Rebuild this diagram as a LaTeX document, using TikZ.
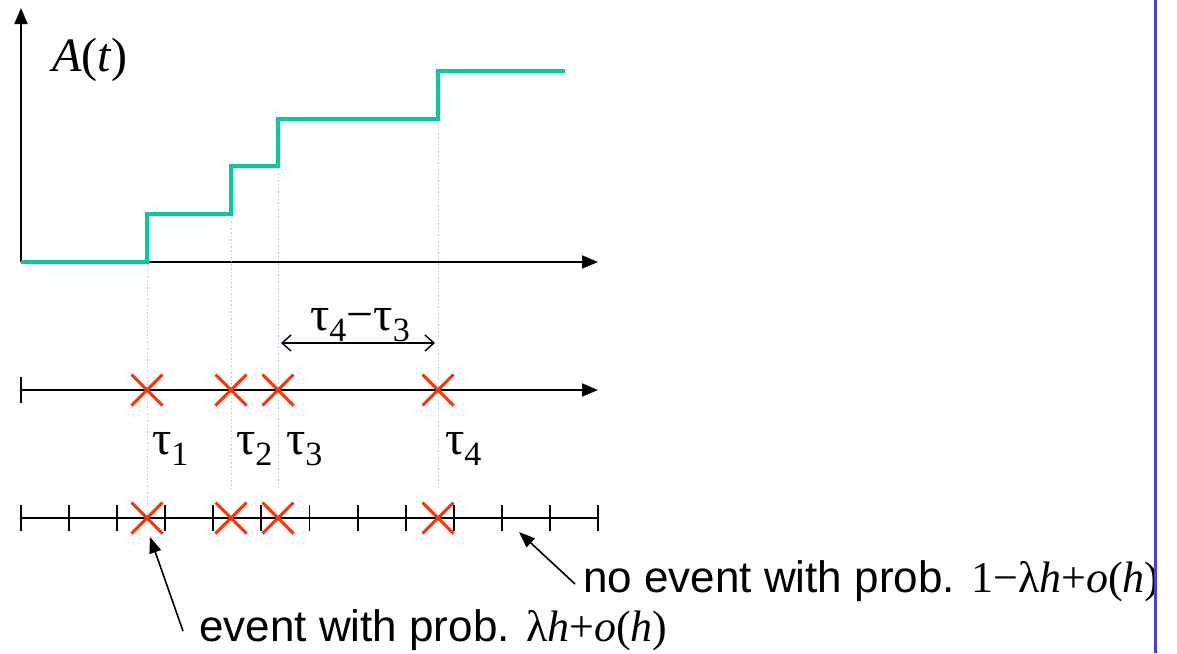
\documentclass[tikz,border=0pt]{standalone}
\usepackage{fontspec}
\setmainfont{Liberation Sans}
\newfontfamily\serif{Liberation Serif}
\usetikzlibrary{arrows.meta,shapes.misc}
\definecolor{stairgreen}{HTML}{00CC99}
\definecolor{guidelav}{HTML}{C8C8F0}
\definecolor{eventred}{HTML}{FF3300}
\definecolor{edgeblue}{HTML}{4040DD}
\newcommand\bigtxt{\fontsize{44}{52}\selectfont}
\newcommand\tautxt{\fontsize{48}{54}\selectfont}
\newcommand\tausub[1]{τ\raisebox{-11pt}{\fontsize{34}{34}\selectfont #1}}
\begin{document}
\begin{tikzpicture}[x=1pt,y=-1pt,
  axis/.style={line width=1.9pt,-{Triangle[length=16pt,width=13pt]}},
  stair/.style={line width=3.2pt,color=stairgreen},
  guide/.style={line width=0.9pt,color=guidelav,dash pattern=on 1.6pt off 2pt},
  tickmark/.style={line width=1.9pt},
  evcross/.style={cross out,draw=eventred,line width=3pt,minimum size=28pt,inner sep=0pt},
  pointer/.style={line width=1.6pt,-{Triangle[length=16pt,width=12pt]}},
  lbl/.style={inner sep=0pt,font=\bigtxt}]
\useasboundingbox (0,0) rectangle (1177,653);

% coordinate axes of A(t)
\coordinate (o) at (21,262);
\coordinate (ytop) at (21,8);
\coordinate (xend) at (598,262);
\draw[axis] (o) -- (ytop);
\draw[axis] (o) -- (xend);
\node[lbl,font=\fontsize{48}{54}\selectfont\serif] (At) at (90,60) {\textit{A}(\textit{t})};

% guides from the jumps down to the time lines
\draw[guide] (147,262) -- (147,505);
\draw[guide] (231,214) -- (231,488);
\draw[guide] (278,166) -- (278,488);
\draw[guide] (438,119) -- (438,488);

% counting function
\draw[stair] (o) -- (147,262) -- (147,214) -- (231,214) -- (231,166)
  -- (278,166) -- (278,119) -- (438,119) -- (438,71) -- (565,71);

% event time line
\coordinate (m0) at (21,390);
\coordinate (mend) at (598,390);
\draw[axis] (m0) -- (mend);
\draw[tickmark] (21,377) -- (21,403);
\node[evcross] (a1) at (147,390) {};
\node[evcross] (a2) at (231,390) {};
\node[evcross] (a3) at (278,390) {};
\node[evcross] (a4) at (438,390) {};
\node[lbl,anchor=base west,font=\tautxt\serif] (t1) at (152,454) {\tausub{1}};
\node[lbl,anchor=base west,font=\tautxt\serif] (t2) at (236,454) {\tausub{2}};
\node[lbl,anchor=base west,font=\tautxt\serif] (t3) at (286,454) {\tausub{3}};
\node[lbl,anchor=base west,font=\tautxt\serif] (t4) at (445,454) {\tausub{4}};

% gap between the last two events
\coordinate (g3) at (281,343);
\coordinate (g4) at (435,343);
\draw[line width=1.4pt,{Straight Barb[length=9pt,width=16pt]}-{Straight Barb[length=9pt,width=16pt]}] (g3) -- (g4);
\node[lbl,anchor=base,font=\tautxt\serif] (gap) at (360,330) {\tausub{4}−\tausub{3}};

% discretised time line with small slots
\draw[tickmark] (21,518) -- (598,518);
\foreach \i in {0,...,12}
  \draw[tickmark] ({21+\i*48.08},505) -- ({21+\i*48.08},531);
\node[evcross] (b1) at (147,518) {};
\node[evcross] (b2) at (231,518) {};
\node[evcross] (b3) at (278,518) {};
\node[evcross] (b4) at (438,518) {};

% annotations
\node[lbl,anchor=base west] (ev) at (199,641)
  {event with prob. {\serif λ\textit{h}+\textit{o}(\textit{h})}};
\node[lbl,anchor=base west] (noev) at (583,592)
  {no event with prob. {\serif 1−λ\textit{h}+\textit{o}(\textit{h})}};
\coordinate (evtail) at (183,631);
\coordinate (evtip) at (150,537);
\coordinate (notail) at (575,584);
\coordinate (notip) at (519,532);
\draw[pointer] (evtail) -- (evtip);
\draw[pointer] (notail) -- (notip);

% right-hand border line
\coordinate (bt) at (1155,0);
\coordinate (bb) at (1155,653);
\draw[line width=3pt,edgeblue] (bt) -- (bb);
\end{tikzpicture}
\end{document}
